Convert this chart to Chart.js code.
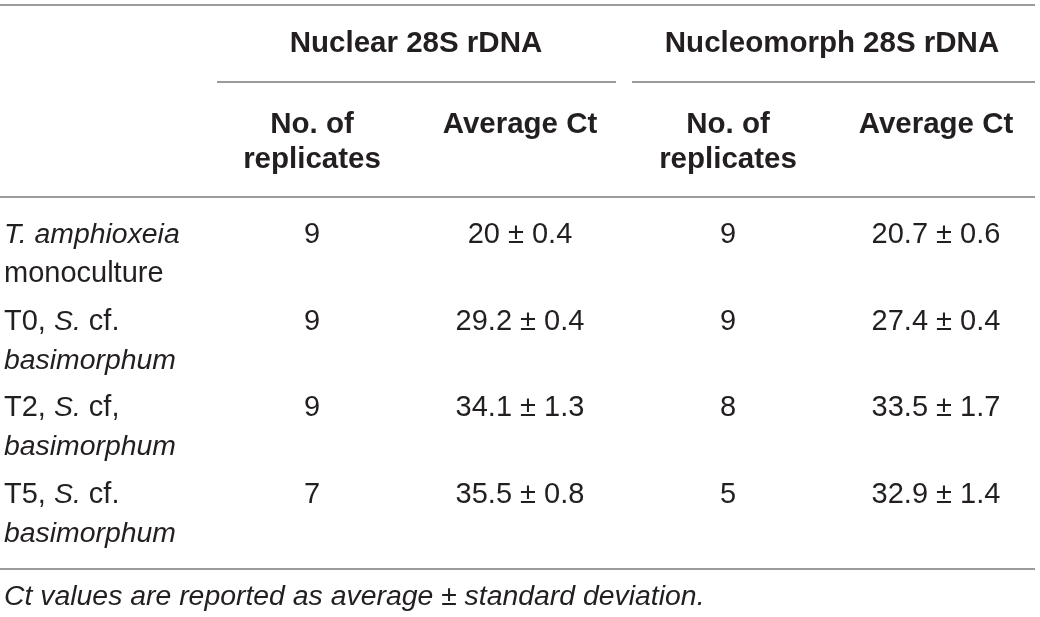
<!DOCTYPE html>
<html>
<head>
<meta charset="utf-8">
<script src="https://cdn.jsdelivr.net/npm/chart.js@4.4.1/dist/chart.umd.min.js"></script>
<style>
  html, body { margin: 0; padding: 0; background: #ffffff; }
  #wrap { width: 1040px; height: 617px; position: relative; }
</style>
</head>
<body>
<div id="wrap"><canvas id="c"></canvas></div>
<script>
// ---- data ----
const columnKeys = ['sample', 'nucRep', 'nucCt', 'nmRep', 'nmCt'];
const groupHeaders = ['Nuclear 28S rDNA', 'Nucleomorph 28S rDNA'];
const subHeaders = ['No. of\nreplicates', 'Average Ct', 'No. of\nreplicates', 'Average Ct'];
// "_" toggles italics, "|" breaks the line
const samples = [
  '_T. amphioxeia_|monoculture',
  'T0, _S._ cf.|_basimorphum_',
  'T2, _S._ cf,|_basimorphum_',
  'T5, _S._ cf.|_basimorphum_'
];
const nuclearReplicates = [9, 9, 9, 7];
const nuclearCtMean = [20, 29.2, 34.1, 35.5];
const nuclearCtSD = [0.4, 0.4, 1.3, 0.8];
const nucleomorphReplicates = [9, 9, 8, 5];
const nucleomorphCtMean = [20.7, 27.4, 33.5, 32.9];
const nucleomorphCtSD = [0.6, 0.4, 1.7, 1.4];
const footnote = 'Ct values are reported as average ± standard deviation.';

// ---- style ----
const TEXT = '#231f20';
const RULE = '#9b9b9b';
const FAMILY = '"Liberation Sans", Arial, Helvetica, sans-serif';
const SIZE = 29, ITALIC_SIZE = 28.4, BOLD_SIZE = 29.5;

const cellText = (mean, sd) => mean + ' ± ' + sd;

const tablePlugin = {
  id: 'tableDraw',
  afterDraw(chart) {
    const { ctx, chartArea: ca, scales: { x, y } } = chart;
    const colW = x.getPixelForValue(1) - x.getPixelForValue(0);
    const top = ca.top, bottom = ca.bottom;
    ctx.save();
    ctx.textBaseline = 'alphabetic';

    const rule = (x1, x2, yy) => {
      ctx.strokeStyle = RULE; ctx.lineWidth = 2;
      ctx.beginPath(); ctx.moveTo(x1, yy); ctx.lineTo(x2, yy); ctx.stroke();
    };
    const setFont = (bold, italic) => {
      const sz = bold ? BOLD_SIZE : (italic ? ITALIC_SIZE : SIZE);
      ctx.font = (italic ? 'italic ' : '') + (bold ? 'bold ' : '') + sz + 'px ' + FAMILY;
    };
    const centered = (txt, cx, by, bold) => {
      setFont(bold, false);
      ctx.fillStyle = TEXT; ctx.textAlign = 'center';
      ctx.fillText(txt, cx, by);
    };

    // rules
    rule(ca.left, ca.right - 5, top - 206);
    rule(ca.left, ca.right - 5, top - 14);
    rule(ca.left, ca.right - 5, bottom + 12);

    // group headers
    groupHeaders.forEach((g, gi) => {
      const c1 = 1 + gi * 2, c2 = c1 + 1;
      const cx = (x.getPixelForValue(c1) + x.getPixelForValue(c2)) / 2;
      centered(g, cx, top - 159, true);
      const l = x.getPixelForValue(c1) - colW / 2 + (gi === 0 ? 9 : 8);
      const r = x.getPixelForValue(c2) + colW / 2 - (gi === 0 ? 8 : 5);
      rule(l, r, top - 129);
    });

    // sub headers
    subHeaders.forEach((s, i) => {
      const cx = x.getPixelForValue(i + 1);
      s.split('\n').forEach((line, li) => centered(line, cx, top - 78 + li * 35, true));
    });

    // body
    samples.forEach((s, r) => {
      const cy = y.getPixelForValue(r);
      const lines = s.split('|');
      lines.forEach((line, li) => {
        let px = ca.left + 4;
        const by = cy - 11 + li * 39;
        const parts = line.split('_');
        parts.forEach((seg, si) => {
          if (!seg) return;
          setFont(false, si % 2 === 1);
          ctx.fillStyle = TEXT; ctx.textAlign = 'left';
          ctx.fillText(seg, px, by);
          px += ctx.measureText(seg).width;
        });
      });
      const by = cy - 11;
      centered(String(nuclearReplicates[r]), x.getPixelForValue(1), by, false);
      centered(cellText(nuclearCtMean[r], nuclearCtSD[r]), x.getPixelForValue(2), by, false);
      centered(String(nucleomorphReplicates[r]), x.getPixelForValue(3), by, false);
      centered(cellText(nucleomorphCtMean[r], nucleomorphCtSD[r]), x.getPixelForValue(4), by, false);
    });

    // footnote
    setFont(false, true);
    ctx.fillStyle = TEXT; ctx.textAlign = 'left';
    ctx.fillText(footnote, ca.left + 4, bottom + 48);
    ctx.restore();
  }
};

new Chart(document.getElementById('c'), {
  type: 'bar',
  data: { labels: columnKeys, datasets: [] },
  options: {
    responsive: true,
    maintainAspectRatio: false,
    animation: false,
    layout: { padding: { top: 211, bottom: 60, left: 0, right: 0 } },
    plugins: { legend: { display: false }, tooltip: { enabled: false } },
    scales: {
      x: { type: 'category', labels: columnKeys, offset: true, display: false },
      y: { type: 'category', labels: samples, offset: true, display: false }
    }
  },
  plugins: [tablePlugin]
});
</script>
</body>
</html>
